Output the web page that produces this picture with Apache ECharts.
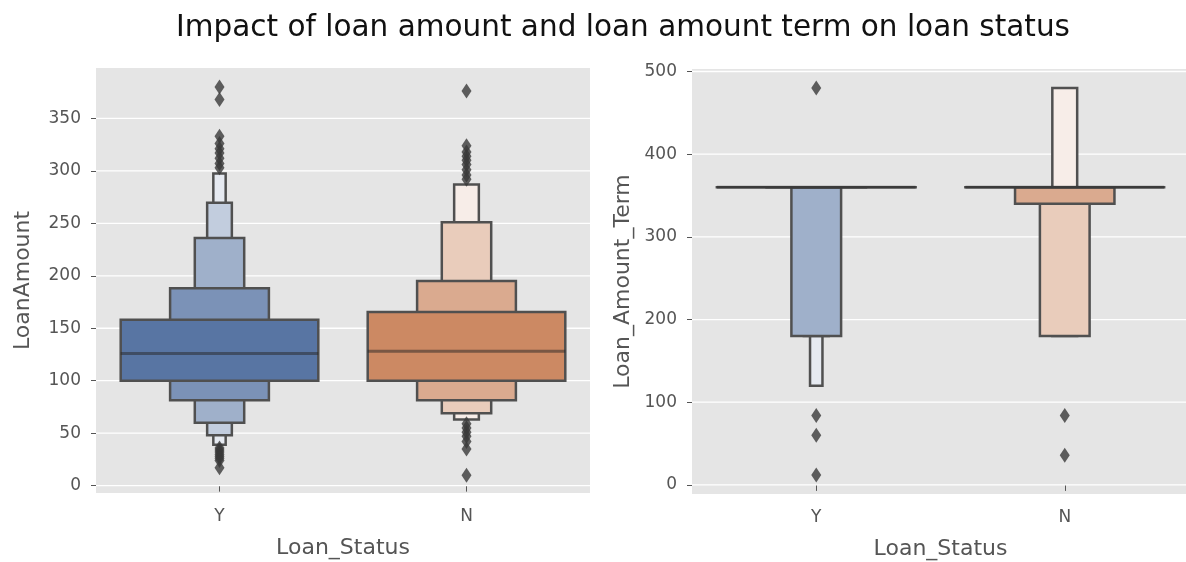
<!DOCTYPE html>
<html>
<head>
<meta charset="utf-8">
<script src="https://cdn.jsdelivr.net/npm/echarts@6/dist/echarts.min.js"></script>
<style>
html,body{margin:0;padding:0;background:#fff;}
#chart{width:1186px;height:562px;}
</style>
</head>
<body>
<div id="chart"></div>
<script>
// ---------------- DATA ----------------
const categories = ['Y', 'N'];

// LoanAmount boxen levels, level 0 = innermost box, [lower, upper]
const amountLevelsY = [[100, 158], [81.5, 188], [60, 236], [48, 269.5], [39, 297.5]];
const amountLevelsN = [[100, 165.5], [81.5, 195], [69, 251], [63, 287]];
const amountMedians = [126, 128];
const amountOutliersY = [380, 368, 333, 326, 321, 317, 312, 307, 303, 36, 34, 32, 30, 28, 26, 24, 17];
const amountOutliersN = [376, 324, 318, 314, 310, 306, 301, 296, 292, 59, 55, 51, 47, 42, 35, 10];

// Loan_Amount_Term boxen levels, [lower, upper]
const termLevelsY = [[360, 360], [360, 360], [180, 360], [180, 360], [120, 360]];
const termLevelsN = [[360, 360], [340, 360], [180, 360], [180, 480]];
const termMedians = [360, 360];
const termOutliersY = [480, 84, 60, 12];
const termOutliersN = [84, 36];

const amountTicks = [0, 50, 100, 150, 200, 250, 300, 350];
const termTicks = [0, 100, 200, 300, 400, 500];

const titleText = 'Impact of loan amount and loan amount term on loan status';

// ---------------- STYLE ----------------
const baseColors = [[88, 117, 163], [204, 137, 99]];
const edgeColor = '#505050';
const FONT = 'DejaVu Sans';

function levelColor(catIdx, lvl, nLev) {
  const b = baseColors[catIdx];
  const f = nLev > 1 ? 0.85 * lvl / (nLev - 1) : 0;
  const c = b.map(v => Math.round(v + (255 - v) * f));
  return 'rgb(' + c.join(',') + ')';
}

function boxData(levelsList) {
  const out = [];
  levelsList.forEach((levels, ci) => {
    for (let l = levels.length - 1; l >= 0; l--) {
      out.push([ci, levels[l][0], levels[l][1], l, levels.length]);
    }
  });
  return out;
}

function renderBox(params, api) {
  const ci = api.value(0), lo = api.value(1), hi = api.value(2), lvl = api.value(3), n = api.value(4);
  const band = api.size([1, 0])[0];
  const w = band * 0.8 * Math.pow(0.5, lvl);
  const pTop = api.coord([ci, hi]);
  const pBot = api.coord([ci, lo]);
  let h = pBot[1] - pTop[1];
  return {
    type: 'rect',
    shape: { x: pTop[0] - w / 2, y: pTop[1], width: w, height: Math.max(h, 0.01) },
    style: { fill: levelColor(ci, lvl, n), stroke: edgeColor, lineWidth: 2.5 }
  };
}

function renderMedian(params, api) {
  const ci = api.value(0), m = api.value(1);
  const band = api.size([1, 0])[0];
  const w = band * 0.8;
  const p = api.coord([ci, m]);
  return {
    type: 'line',
    shape: { x1: p[0] - w / 2, y1: p[1], x2: p[0] + w / 2, y2: p[1] },
    style: { stroke: 'rgba(38,38,38,0.5)', lineWidth: 3 }
  };
}

function renderGridLine(params, api) {
  const v = api.value(1);
  const p = api.coord([0, v]);
  const cs = params.coordSys;
  return {
    type: 'line',
    shape: { x1: cs.x, y1: p[1], x2: cs.x + cs.width, y2: p[1] },
    style: { stroke: '#ffffff', lineWidth: 1.3 }
  };
}

function outlierData(listY, listN) {
  return listY.map(v => [categories[0], v]).concat(listN.map(v => [categories[1], v]));
}

function makeXAxis(gi) {
  return {
    type: 'category', gridIndex: gi, data: categories, boundaryGap: true,
    axisLine: { show: false },
    axisTick: { show: true, alignWithLabel: true, length: 6, lineStyle: { color: '#555', width: 1 } },
    axisLabel: { color: '#555', fontSize: 17, fontFamily: FONT, margin: 15 },
    splitLine: { show: false },
    name: 'Loan_Status', nameLocation: 'middle', nameGap: 44,
    nameTextStyle: { color: '#555', fontSize: 22, fontFamily: FONT }
  };
}

function makeYAxis(gi, min, max, ticks, name, nameGap) {
  return {
    type: 'value', gridIndex: gi, min: min, max: max,
    axisLine: { show: false },
    axisTick: { show: true, length: 5, lineStyle: { color: '#555', width: 1 }, customValues: ticks },
    axisLabel: { color: '#555', fontSize: 17, fontFamily: FONT, margin: 15, customValues: ticks },
    splitLine: { show: false },
    name: name, nameLocation: 'middle', nameGap: nameGap,
    nameTextStyle: { color: '#555', fontSize: 22, fontFamily: FONT }
  };
}

const chart = echarts.init(document.getElementById('chart'), null, { renderer: 'canvas' });
chart.setOption({
  animation: false,
  backgroundColor: '#ffffff',
  graphic: [{
    type: 'text', x: 623, y: 28,
    style: { text: titleText, fill: '#111', font: '29.5px "DejaVu Sans"', textAlign: 'center', textVerticalAlign: 'middle' }
  }],
  grid: [
    { left: 96, right: 596, top: 68, bottom: 69, show: true, backgroundColor: '#e5e5e5', borderWidth: 0,
      containLabel: false, outerBoundsMode: 'none' },
    { left: 692, right: -3, top: 69, bottom: 68, show: true, backgroundColor: '#e5e5e5', borderWidth: 0,
      containLabel: false, outerBoundsMode: 'none' }
  ],
  xAxis: [makeXAxis(0), makeXAxis(1)],
  yAxis: [
    makeYAxis(0, -7, 398, amountTicks, 'LoanAmount', 62),
    makeYAxis(1, -11, 503, termTicks, 'Loan_Amount_Term', 58)
  ],
  series: [
    { type: 'custom', xAxisIndex: 0, yAxisIndex: 0, z: 1, renderItem: renderGridLine, silent: true,
      encode: { x: 0, y: 1 }, data: amountTicks.map(v => [0, v]) },
    { type: 'custom', xAxisIndex: 1, yAxisIndex: 1, z: 1, renderItem: renderGridLine, silent: true,
      encode: { x: 0, y: 1 }, data: termTicks.map(v => [0, v]) },
    { type: 'custom', xAxisIndex: 0, yAxisIndex: 0, z: 3, renderItem: renderBox,
      encode: { x: 0, y: [1, 2] }, data: boxData([amountLevelsY, amountLevelsN]) },
    { type: 'custom', xAxisIndex: 1, yAxisIndex: 1, z: 3, renderItem: renderBox,
      encode: { x: 0, y: [1, 2] }, data: boxData([termLevelsY, termLevelsN]) },
    { type: 'custom', xAxisIndex: 0, yAxisIndex: 0, z: 4, renderItem: renderMedian,
      encode: { x: 0, y: 1 }, data: amountMedians.map((m, i) => [i, m]) },
    { type: 'custom', xAxisIndex: 1, yAxisIndex: 1, z: 4, renderItem: renderMedian,
      encode: { x: 0, y: 1 }, data: termMedians.map((m, i) => [i, m]) },
    { type: 'scatter', xAxisIndex: 0, yAxisIndex: 0, z: 5, symbol: 'diamond', symbolSize: [10, 15],
      itemStyle: { color: '#3a3a3a' }, data: outlierData(amountOutliersY, amountOutliersN) },
    { type: 'scatter', xAxisIndex: 1, yAxisIndex: 1, z: 5, symbol: 'diamond', symbolSize: [10, 15],
      itemStyle: { color: '#3a3a3a' }, data: outlierData(termOutliersY, termOutliersN) }
  ]
});
</script>
</body>
</html>
